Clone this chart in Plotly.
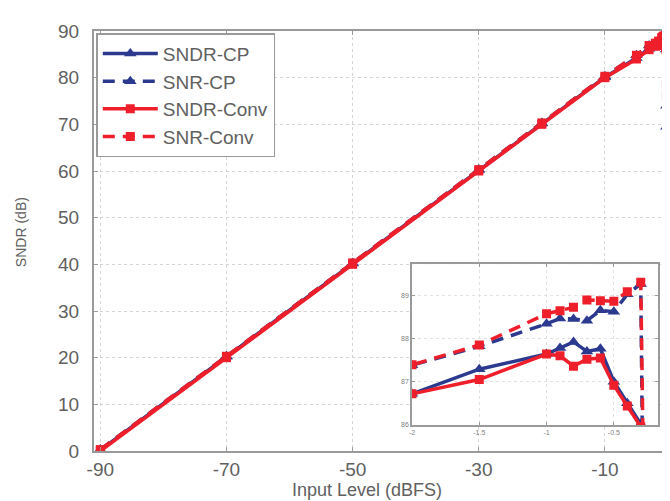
import plotly.graph_objects as go

# Input levels (dBFS)
levels = [-90, -70, -50, -30, -20, -10, -5, -3, -2, -1.5, -1, -0.9, -0.8, -0.7,
          -0.6, -0.5, -0.4, -0.3, -0.25]

sndr_cp = [0.2, 20.2, 40.2, 60.2, 70.2, 80.1, 84.2, 86.2, 86.72, 87.29, 87.64, 87.78,
           87.92, 87.7, 87.76, 87.0, 86.5, 86.02, 69.5]
snr_cp = [0.3, 20.3, 40.3, 60.3, 70.3, 80.3, 84.8, 86.9, 87.38, 87.82, 88.34, 88.46,
          88.45, 88.41, 88.65, 88.62, 89.02, 89.26, 74.0]
sndr_conv = [0.0, 20.0, 40.0, 60.0, 70.0, 80.0, 84.0, 86.0, 86.72, 87.05, 87.64, 87.6,
             87.36, 87.52, 87.55, 86.92, 86.44, 85.96, 76.0]
snr_conv = [0.3, 20.3, 40.3, 60.3, 70.3, 80.3, 84.8, 86.9, 87.39, 87.85, 88.57, 88.64,
            88.72, 88.89, 88.87, 88.86, 89.08, 89.3, 78.5]

names = ["SNDR-CP", "SNR-CP", "SNDR-Conv", "SNR-Conv"]

main_xticks = [-90, -70, -50, -30, -10]
main_xlabels = ["-90", "-70", "-50", "-30", "-10"]
main_yticks = [0, 10, 20, 30, 40, 50, 60, 70, 80, 90]
inset_xticks = [-2, -1.5, -1, -0.5]
inset_xlabels = ["-2", "-1.5", "-1", "-0.5"]
inset_yticks = [86, 87, 88, 89]

BLUE = "#2b3a8f"
RED = "#ee1f2b"
styles = [
    dict(color=BLUE, dash="solid", symbol="triangle-up", size=11),
    dict(color=BLUE, dash="12px,8px", symbol="triangle-up", size=11),
    dict(color=RED, dash="solid", symbol="square", size=9),
    dict(color=RED, dash="12px,8px", symbol="square", size=9),
]
series = [sndr_cp, snr_cp, sndr_conv, snr_conv]

fig = go.Figure()
for name, ys, st in zip(names, series, styles):
    fig.add_trace(go.Scatter(
        x=levels, y=ys, name=name, mode="lines+markers",
        line=dict(color=st["color"], width=3.5, dash=st["dash"]),
        marker=dict(symbol=st["symbol"], size=st["size"], color=st["color"]),
        xaxis="x", yaxis="y", legendgroup=name, showlegend=True,
    ))
for name, ys, st in zip(names, series, styles):
    fig.add_trace(go.Scatter(
        x=levels, y=ys, name=name, mode="lines+markers",
        line=dict(color=st["color"], width=3.5, dash=st["dash"]),
        marker=dict(symbol=st["symbol"], size=st["size"], color=st["color"]),
        xaxis="x2", yaxis="y2", legendgroup=name, showlegend=False,
    ))

axcol = "#9a9a9a"
gridcol = "#d4d4d4"
FONT = "Liberation Sans, Arial, sans-serif"
tickfont = dict(family=FONT, size=19, color="#606060")

fig.update_layout(
    width=670, height=501,
    margin=dict(l=86, r=8, t=23, b=58),
    paper_bgcolor="white", plot_bgcolor="white",
    xaxis=dict(domain=[0, 1], range=[-91, 0], tickvals=main_xticks, ticktext=main_xlabels,
               ticks="inside", ticklen=4, tickcolor=axcol, mirror="ticks",
               showline=True, linecolor=axcol, linewidth=2,
               showgrid=True, gridcolor=gridcol, griddash="dot", gridwidth=1,
               zeroline=False, tickfont=tickfont, ticklabelstandoff=0),
    yaxis=dict(domain=[0, 1], range=[0, 90], tickvals=main_yticks,
               ticks="inside", ticklen=4, tickcolor=axcol, mirror="ticks",
               showline=True, linecolor=axcol, linewidth=2,
               showgrid=True, gridcolor=gridcol, griddash="dot", gridwidth=1,
               zeroline=False, tickfont=tickfont, ticklabelstandoff=9),
    xaxis2=dict(domain=[0.554, 0.983], anchor="y2", range=[-2, -0.17],
                tickvals=inset_xticks, ticktext=inset_xlabels,
                ticks="inside", ticklen=3, tickcolor=axcol, mirror="ticks",
                showline=True, linecolor=axcol, linewidth=1.5,
                showgrid=True, gridcolor="#e2e2e2", griddash="dot",
                zeroline=False,
                tickfont=dict(family=FONT, size=7, color="#808080")),
    yaxis2=dict(domain=[0.062, 0.445], anchor="x2", range=[86, 89.72],
                tickvals=inset_yticks,
                ticks="inside", ticklen=3, tickcolor=axcol, mirror="ticks",
                showline=True, linecolor=axcol, linewidth=1.5,
                showgrid=True, gridcolor="#e2e2e2", griddash="dot",
                zeroline=False,
                tickfont=dict(family=FONT, size=7, color="#808080")),
    legend=dict(x=0.004, y=0.995, xanchor="left", yanchor="top",
                bgcolor="white", bordercolor=axcol, borderwidth=1.5,
                font=dict(family=FONT, size=19, color="#606060"),
                itemwidth=55, tracegroupgap=0),
    annotations=[
        dict(text="Input Level (dBFS)", xref="paper", yref="paper",
             x=0.475, y=-0.121, xanchor="center", yanchor="bottom", showarrow=False,
             font=dict(family=FONT, size=18, color="#606060")),
        dict(text="SNDR (dB)", xref="paper", yref="paper", textangle=-90,
             x=-0.128, y=0.52, xanchor="center", yanchor="middle", showarrow=False,
             font=dict(family=FONT, size=14, color="#606060")),
    ],
)

fig.write_html("out.html")
